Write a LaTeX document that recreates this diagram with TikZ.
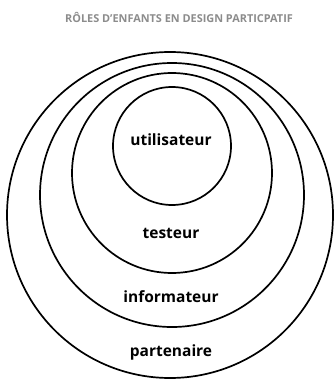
\documentclass[tikz,border=0pt]{standalone}
\usepackage{fontspec}
\setmainfont{Open Sans}
\usepackage{xcolor}
\usepackage{tikz}
\usetikzlibrary{positioning}
\definecolor{titlegray}{RGB}{140,140,140}

\begin{document}
\begin{tikzpicture}[
    x=1pt, y=-1pt,
    ring/.style={draw, circle, line width=1.7pt, inner sep=0pt},
    role/.style={font=\bfseries\fontsize{15.5}{17}\selectfont},
    heading/.style={font=\bfseries\fontsize{10.9}{12}\selectfont, text=titlegray}
  ]
    \useasboundingbox (0,0) rectangle (333,379);
    \node[heading] (title) at (179,17) {RÔLES D’ENFANTS EN DESIGN PARTICPATIF};
    % rings, outer to inner
    \node[ring, minimum size=326pt] (partner) at (170,215) {};
    \node[ring, minimum size=264pt] (informer) at (172,195) {};
    \node[ring, minimum size=200pt] (tester) at (172,173) {};
    \node[ring, minimum size=118pt] (user) at (172,146) {};
    % labels
    \node[role] (userlbl) at (171,140) {utilisateur};
    \node[role] (testerlbl) at (171,233) {testeur};
    \node[role] (informerlbl) at (171,297) {informateur};
    \node[role] (partnerlbl) at (171,352) {partenaire};
  \end{tikzpicture}
\end{document}
